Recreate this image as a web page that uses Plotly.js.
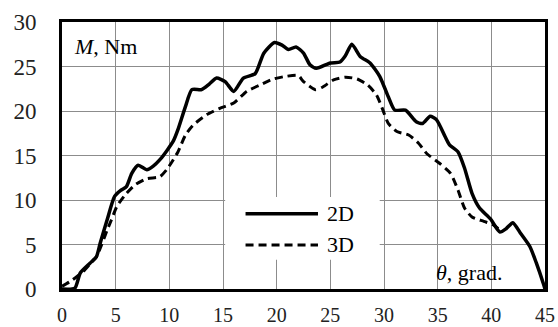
<!DOCTYPE html>
<html><head><meta charset="utf-8">
<script src="https://cdn.plot.ly/plotly-3.0.1.min.js"></script>
<style>html,body{margin:0;padding:0;background:#fff;}#chart{width:558px;height:327px;}</style>
</head><body><div id="chart"></div>
<script>
const theta2D = [0,1.2,1.7,2.6,3.2,3.55,4.2,4.9,5.5,6.0,6.5,7.1,7.9,8.5,9.1,9.8,10.4,10.8,11.5,12.1,13.0,13.7,14.4,15.2,16.0,16.9,18.0,18.8,19.8,20.5,21.1,21.8,22.5,23.1,23.7,25.0,25.9,26.4,27.0,27.8,28.7,29.6,30.4,31.0,32.0,33.0,33.6,34.3,34.9,35.7,36.1,36.9,37.5,38.2,38.9,39.9,40.8,41.4,42.0,42.7,43.6,44.2,44.85,45];
const torque2D = [0,0.1,1.8,2.9,3.6,5.1,7.75,10.4,11.1,11.5,13.0,13.9,13.4,13.8,14.5,15.6,16.7,17.9,20.5,22.4,22.4,23.0,23.7,23.3,22.2,23.7,24.2,26.5,27.7,27.4,26.9,27.2,26.5,25.2,24.8,25.4,25.5,26.2,27.5,26.1,25.4,23.9,21.6,20.1,20.1,18.8,18.6,19.4,19.0,17.1,16.2,15.4,13.6,10.75,9.1,7.9,6.4,6.8,7.45,6.3,4.75,2.9,0.6,0];
const theta3D = [0,0.7,1.4,2.0,2.6,3.2,3.7,4.2,4.6,5.1,5.9,6.8,7.9,9.1,9.75,10.8,11.5,12.2,13.5,14.7,16.0,17.2,18.4,19.7,20.9,22.0,22.5,23.6,24.3,25.3,26.4,27.5,28.5,29.3,29.9,30.4,31.2,32.3,33.2,34.0,35.2,36.2,36.9,37.5,38.2,39.3,40.2,40.8];
const torque3D = [0.3,0.8,1.4,2.0,2.8,3.6,5.0,6.6,7.75,9.25,10.6,11.7,12.4,12.6,13.4,15.4,17.3,18.4,19.6,20.3,20.9,22.2,22.9,23.6,23.9,24.0,23.3,22.4,22.7,23.5,23.8,23.6,22.9,21.8,20.1,18.6,17.7,17.3,16.4,15.2,14.1,13.0,11.1,9.1,8.1,7.6,7.2,6.6];
const xTicks = [0,5,10,15,20,25,30,35,40,45];
const yTicks = [0,5,10,15,20,25,30];
const seriesNames = ['2D','3D'];

const serif = '"Liberation Serif", "DejaVu Serif", serif';
const traces = [
  {x: theta3D, y: torque3D, mode:'lines', name: seriesNames[1],
   line:{color:'#000', width:3, dash:'8px,5px', shape:'spline', smoothing:0.6}},
  {x: theta2D, y: torque2D, mode:'lines', name: seriesNames[0],
   line:{color:'#000', width:3.5, shape:'spline', smoothing:0.6}}
];
const layout = {
  width:558, height:327,
  margin:{l:62, r:13, t:22, b:38},
  paper_bgcolor:'#fff', plot_bgcolor:'#fff',
  showlegend:false,
  font:{family:serif},
  xaxis:{range:[0,45], tickvals:xTicks, ticktext:xTicks.map(String), showgrid:true, gridcolor:'#8c8c8c', gridwidth:1,
    zeroline:false, showline:true, mirror:true, linecolor:'#000', linewidth:3, ticks:'',
    ticklabelstandoff:6, tickfont:{family:serif, size:20, color:'#222'}, fixedrange:true},
  yaxis:{range:[0,30], tickvals:yTicks, ticktext:yTicks.map(String), showgrid:true, gridcolor:'#8c8c8c', gridwidth:1,
    zeroline:false, showline:true, mirror:true, linecolor:'#000', linewidth:3, ticks:'',
    ticklabelstandoff:18, tickfont:{family:serif, size:23, color:'#222'}, fixedrange:true},
  shapes:[
    {type:'rect', xref:'x', yref:'y', x0:15.2, x1:29.6, y0:3.3, y1:10.35, fillcolor:'#fff', line:{width:0}, layer:'between'},
    {type:'line', xref:'x', yref:'y', x0:17.1, x1:23.85, y0:8.45, y1:8.45, line:{color:'#000', width:3.5}},
    {type:'line', xref:'x', yref:'y', x0:17.1, x1:23.85, y0:4.95, y1:4.95, line:{color:'#000', width:3, dash:'8px,5px'}}
  ],
  annotations:[
    {xref:'x', yref:'y', x:24.5, y:8.45, text:seriesNames[0], showarrow:false, xanchor:'left', yanchor:'middle', font:{family:serif, size:22, color:'#000'}},
    {xref:'x', yref:'y', x:24.5, y:4.95, text:seriesNames[1], showarrow:false, xanchor:'left', yanchor:'middle', font:{family:serif, size:22, color:'#000'}},
    {xref:'x', yref:'y', x:0.9, y:27.3, text:'<i>M</i>, Nm', showarrow:false, xanchor:'left', yanchor:'middle', font:{family:serif, size:22, color:'#000'}},
    {xref:'x', yref:'y', x:34.7, y:1.8, text:'<i>θ</i>, grad.', showarrow:false, xanchor:'left', yanchor:'middle', font:{family:serif, size:22, color:'#000'}}
  ]
};
Plotly.newPlot('chart', traces, layout, {displayModeBar:false, staticPlot:true});
</script></body></html>
